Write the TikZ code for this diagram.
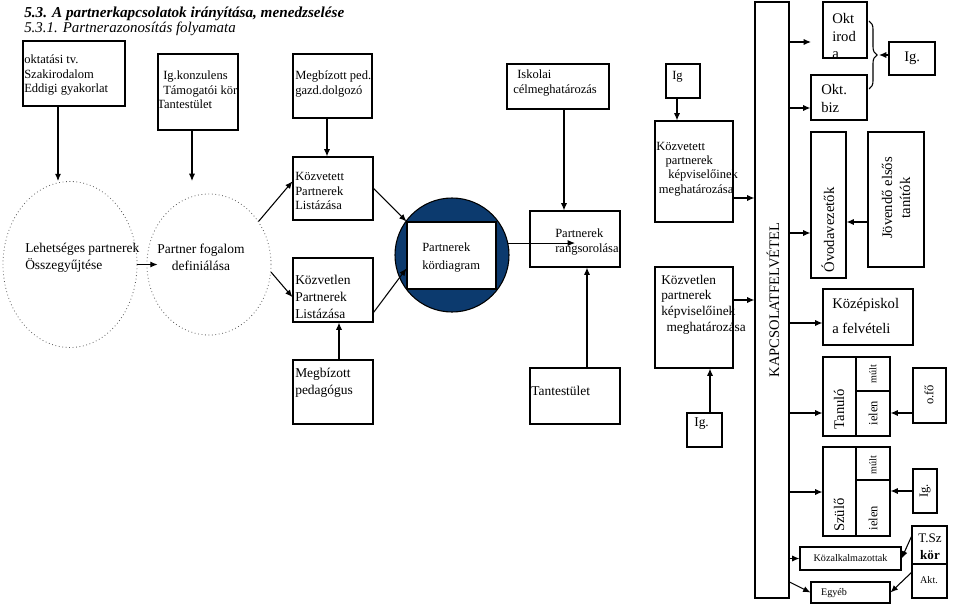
\documentclass[tikz,border=0pt]{standalone}
\usepackage{fontspec}
\setmainfont{Liberation Serif}
\usetikzlibrary{arrows.meta,shapes.geometric,fit,calc,decorations.pathreplacing}
\definecolor{kekkor}{RGB}{12,58,110}
\tikzset{
	box/.style={draw, line width=0.8pt, inner sep=0pt},
	szoveg/.style={inner sep=0pt, align=left, font=\fontsize{9.4}{11}\selectfont},
	nagy/.style={inner sep=0pt, align=left, font=\fontsize{10.1}{12.6}\selectfont},
	jobb/.style={inner sep=0pt, align=left, font=\fontsize{11}{13}\selectfont},
	kicsi/.style={inner sep=0pt, font=\fontsize{7.6}{9}\selectfont},
	kor/.style={draw=black!65, dotted, line width=0.6pt, ellipse, inner sep=0pt},
	nyil/.style={-{Latex[length=5.5pt,width=4.6pt]}, line width=0.8pt},
	vonal/.style={line width=0.8pt}
}
\begin{document}
\begin{tikzpicture}[x=0.75pt, y=-0.75pt]
	\useasboundingbox (0,0) rectangle (960,607);
	\node[anchor=west, inner sep=0pt, font=\fontsize{11.4}{13}\selectfont\bfseries\itshape] (cim) at (24,14) {5.3. A partnerkapcsolatok irányítása, menedzselése};
	\node[anchor=west, inner sep=0pt, font=\fontsize{11.2}{13}\selectfont\itshape] (alcim) at (24,29) {5.3.1. Partnerazonosítás folyamata};

	% forrasok
	\node[box, fit={(23,41) (125,106)}] (okt) {};
	\node[szoveg, anchor=west] (oktT) at (24,75) {oktatási tv.\\Szakirodalom\\Eddigi gyakorlat};
	\node[box, line width=1.6pt, fit={(158,54) (238,130)}] (igk) {};
	\node[szoveg, anchor=west] (igkT) at (157,90) {\hspace*{4.5pt}Ig.konzulens\\\hspace*{4.5pt}Támogatói kör\\Tantestület};
	\node[box, fit={(293,54) (372,118)}] (megb) {};
	\node[szoveg, anchor=west] (megbT) at (295,84) {Megbízott ped.\\gazd.dolgozó};
	\node[box, fit={(507,64) (609,109)}] (isk) {};
	\node[szoveg, anchor=west] (iskT) at (513,83) {\hspace*{3pt}Iskolai\\célmeghatározás};
	\node[box, fit={(666,64) (700,98)}] (ig) {};
	\node[szoveg, anchor=west] (igT) at (672,77) {Ig};
	\coordinate (igkv) at (192,181);

	\node[kor, minimum width=100.5pt, minimum height=124.5pt] (c1) at (70,264.5) {};
	\node[nagy, anchor=west] (c1T) at (25,257.5) {Lehetséges partnerek\\Összegyűjtése};
	\node[kor, minimum width=93pt, minimum height=105.75pt] (c2) at (209,264.5) {};
	\node[nagy, align=center] (c2T) at (201,257.5) {Partner fogalom\\definiálása};

	\node[box, fit={(293,157) (373,220)}] (kvt) {};
	\node[szoveg, anchor=west] (kvtT) at (295,191) {Közvetett\\Partnerek\\Listázása};
	\node[box, fit={(293,258) (373,322)}] (kvl) {};
	\node[nagy, anchor=west] (kvlT) at (295,297) {Közvetlen\\Partnerek\\Listázása};
	\node[box, fit={(293,360) (373,424)}] (megbp) {};
	\node[nagy, anchor=west] (megbpT) at (295,383) {Megbízott\\pedagógus};

	\node[circle, fill=kekkor, draw=black, line width=0.8pt, minimum size=85.5pt, inner sep=0pt] (kord) at (452,255) {};
	\node[box, fill=white, fit={(407,222) (496,289)}] (kordb) {};
	\node[szoveg, anchor=west, font=\fontsize{9.4}{12.8}\selectfont] (kordT) at (422,257.5) {Partnerek\\kördiagram};

	\node[box, fit={(530,211) (620,267)}] (rang) {};
	\node[szoveg, anchor=west, font=\fontsize{9.4}{12}\selectfont] (rangT) at (555,242) {Partnerek\\rangsorolása};
	\node[box, fit={(530,368) (620,424)}] (tant) {};
	\node[nagy, anchor=west] (tantT) at (531,391) {Tantestület};

	\node[box, fit={(655,121) (733,222)}] (kvtk) {};
	\node[szoveg, anchor=west, font=\fontsize{9.4}{10.7}\selectfont] (kvtkT) at (656,169) {Közvetett\\\hspace*{7pt}partnerek\\\hspace*{9pt}képviselőinek\\\hspace*{2pt}meghatározása};
	\node[box, fit={(655,267) (733,368)}] (kvlk) {};
	\node[nagy, anchor=west, font=\fontsize{10}{11.8}\selectfont] (kvlkT) at (661,304.5) {Közvetlen\\partnerek\\képviselőinek\\\hspace*{4pt}meghatározása};
	\node[box, fit={(687,413) (722,447)}] (ig2) {};
	\node[nagy, anchor=west] (ig2T) at (694,424) {Ig.};

	% kapcsolatfelvetel
	\node[box, fit={(755,2) (789,598)}] (bar) {};
	\node[rotate=90, inner sep=0pt, font=\fontsize{10.9}{13}\selectfont] (barT) at (773,300) {KAPCSOLATFELVÉTEL};

	\node[box, fit={(823,2) (867,58)}] (okti) {};
	\begin{scope}
		\clip (823,2) rectangle (867,58);
		\node[jobb, anchor=west, font=\fontsize{11}{13.1}\selectfont] (oktiT) at (832,36) {Okt\\irod\\a};
	\end{scope}
	\coordinate (oktiv) at (811,42);
	\node[box, fit={(811,75) (867,120)}] (oktb) {};
	\node[jobb, anchor=west, font=\fontsize{11}{14.2}\selectfont] (oktbT) at (821,98.5) {Okt.\\biz};
	\draw[vonal, decorate, decoration={brace, amplitude=6pt}] (869,21) -- (869,89);
	\coordinate (kapocs) at (879,55);
	\node[box, fit={(889,42) (935,75)}] (igf) {};
	\node[jobb, anchor=west] (igfT) at (904,58) {Ig.};

	\node[box, fit={(811,132) (846,278)}] (ovo) {};
	\node[rotate=90, jobb] (ovoT) at (828,230) {Óvodavezetők};
	\node[box, fit={(868,132) (924,267)}] (jov) {};
	\node[rotate=90, jobb, align=center, font=\fontsize{11}{13.5}\selectfont] (jovT) at (896,198) {Jövendő elsős\\tanítók};
	\node[box, fit={(823,289) (913,345)}] (kozep) {};
	\node[jobb, anchor=west, font=\fontsize{11}{18.75}\selectfont] (kozepT) at (832,315.5) {Középiskol\\a felvételi};

	\node[box, fit={(823,357) (890,436)}] (tan) {};
	\draw[vonal] (tan.north -| 856,0) -- (tan.south -| 856,0) (856,391) -- (tan.east |- 0,391);
	\node[rotate=90, jobb] (tanT) at (839,409) {Tanuló};
	\node[rotate=90, kicsi] (tanM) at (873,374) {múlt};
	\node[rotate=90, szoveg] (tanI) at (873,413) {ielen};
	\node[box, fit={(913,368) (946,423)}] (ofo) {};
	\node[rotate=90, szoveg] (ofoT) at (929,395) {o.fő};

	\node[box, fit={(823,447) (890,536)}] (szu) {};
	\draw[vonal] (szu.north -| 856,0) -- (szu.south -| 856,0) (856,480) -- (szu.east |- 0,480);
	\node[rotate=90, jobb] (szuT) at (839,515) {Szülő};
	\node[rotate=90, kicsi] (szuM) at (873,465) {múlt};
	\node[rotate=90, szoveg] (szuI) at (873,518) {ielen};
	\node[box, fit={(913,469) (937,513)}] (igs) {};
	\node[rotate=90, szoveg] (igsT) at (925,491) {Ig.};

	\node[box, fit={(800,547) (901,570)}] (kozal) {};
	\node[kicsi] (kozalT) at (850.5,558.5) {Közalkalmazottak};
	\node[box, fit={(811,582) (890,603)}] (egyeb) {};
	\node[kicsi] (egyebT) at (834,593) {Egyéb};
	\node[box, fit={(912,526) (947,598)}] (tsz) {};
	\draw[vonal] (tsz.west |- 0,564) -- (tsz.east |- 0,564);
	\node[szoveg, align=center, font=\fontsize{9.8}{12.7}\selectfont] (tszT) at (930,546.5) {T.Sz\\\textbf{kör}};
	\node[kicsi] (aktT) at (929,580) {Akt.};

	% nyilak
	\draw[nyil] (okt.south -| 58,0) -- (c1.north -| 58,0);
	\draw[nyil] (igk.south -| 192,0) -- (igkv);
	\draw[nyil] (megb.south -| 327,0) -- (kvt.north -| 327,0);
	\draw[nyil] (c1.east) -- ($(c2.west)+(11,0)$);
	\draw[nyil] (c2.41) -- (kvt.170);
	\draw[nyil] (c2.-7) -- (kvl.190);
	\draw[nyil] (kvt.east) -- (kordb.north west);
	\draw[nyil] (kvl.-29) -- (kordb.196);
	\draw[nyil] (kord.12) -- (rang.center |- kord.12);
	\draw[nyil] (isk.south -| 564,0) -- (rang.north -| 564,0);
	\draw[nyil] (tant.north -| 587,0) -- (rang.south -| 587,0);
	\draw[nyil] (megbp.north -| 339,0) -- (kvl.south -| 339,0);
	\draw[nyil] (ig.south -| 677,0) -- (kvtk.north -| 677,0);
	\draw[nyil] (ig2.north -| 710,0) -- (kvlk.south -| 710,0);
	\draw[nyil] (kvtk.east |- 0,198) -- (bar.west |- 0,198);
	\draw[nyil] (kvlk.east |- 0,300) -- (bar.west |- 0,300);
	\draw[nyil] (bar.east |- oktiv) -- (oktiv);
	\draw[nyil] (bar.east |- 0,108) -- (oktb.west |- 0,108);
	\draw[nyil] (igf.west |- kapocs) -- (kapocs);
	\draw[nyil] (bar.east |- 0,233) -- (ovo.west |- 0,233);
	\draw[nyil] (jov.west |- 0,222) -- (ovo.east |- 0,222);
	\draw[nyil] (bar.east |- 0,323) -- (kozep.west |- 0,323);
	\draw[nyil] (bar.east |- 0,413) -- (tan.west |- 0,413);
	\draw[nyil] (ofo.west |- 0,413) -- (tan.east |- 0,413);
	\draw[nyil] (bar.east |- 0,492) -- (szu.west |- 0,492);
	\draw[nyil] (igs.west) -- (szu.east |- igs.west);
	\draw[nyil] (bar.east |- kozal.west) -- (kozal.west);
	\draw[nyil] (bar.east |- 0,582) -- (egyeb.west);
	\draw[nyil] ($(tsz.north west)+(0,11)$) -- (kozal.east);
	\draw[nyil] ($(tsz.north west)+(0,47)$) -- (egyeb.east);
\end{tikzpicture}
\end{document}
